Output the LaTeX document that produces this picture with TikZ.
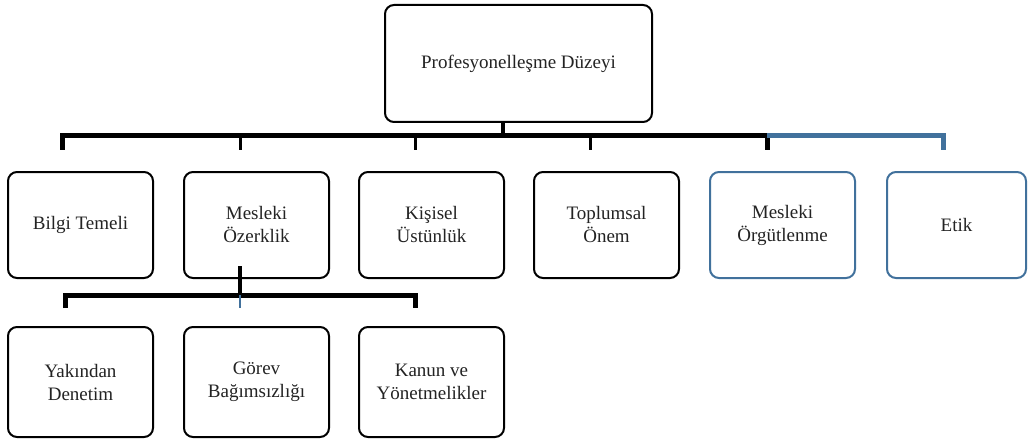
\documentclass[tikz,border=0pt]{standalone}
\usepackage{fontspec}
\setmainfont{Liberation Serif}
\definecolor{boxblue}{RGB}{65,113,156}
\definecolor{txt}{RGB}{35,35,35}
\begin{document}
\begin{tikzpicture}[x=1pt,y=-1pt,
  box/.style={draw=black,line width=2pt,rounded corners=9pt,fill=white,
    minimum width=145pt,minimum height=106pt,inner sep=2pt,align=center,
    text=txt,font=\fontsize{19}{23}\selectfont},
  bluebox/.style={box,draw=boxblue},
  bar/.style={line width=5pt,black},
  tick/.style={line width=3pt,black},
  bbar/.style={line width=5pt,boxblue},
  btick/.style={line width=3pt,boxblue}]
\useasboundingbox (0,0) rectangle (1028,441);
\node[box,minimum width=267pt,minimum height=117pt] (top) at (518.5,63.5) {Profesyonelleşme Düzeyi};
\node[box] (bilgi) at (80.5,225) {Bilgi Temeli};
\node[box] (ozerk) at (256.5,225) {Mesleki\\Özerklik};
\node[box] (kisi) at (431.5,225) {Kişisel\\Üstünlük};
\node[box] (toplum) at (606.5,225) {Toplumsal\\Önem};
\node[bluebox] (orgut) at (782.5,225) {Mesleki\\Örgütlenme};
\node[bluebox,minimum width=139pt] (etik) at (956.5,225) {Etik};
\node[box,minimum height=110pt] (yakin) at (80.5,382) {Yakından\\Denetim};
\node[box,minimum height=110pt] (gorev) at (256.5,382) {Görev\\Bağımsızlığı};
\node[box,minimum height=110pt] (kanun) at (431.5,382) {Kanun ve\\Yönetmelikler};
% upper tree
\coordinate (s0) at (503,136);
\coordinate (b1) at (62,136); \coordinate (t1) at (62,150);
\coordinate (b2) at (240,136); \coordinate (t2) at (240,150);
\coordinate (b3) at (415,136); \coordinate (t3) at (415,150);
\coordinate (b4) at (590,136); \coordinate (t4) at (590,150);
\coordinate (b5) at (767,136); \coordinate (t5) at (767,150);
\coordinate (b6) at (943,136); \coordinate (t6) at (943,150);
\draw[line width=3.5pt] (top.south -| s0) -- (s0);
\draw[bar] (t1) -- (b1) -- (b5) -- (t5);
\draw[tick] (b2) -- (t2);
\draw[tick] (b3) -- (t3);
\draw[tick] (b4) -- (t4);
\draw[bbar] (b5) -- (b6) -- (t6);
% lower tree
\coordinate (s1) at (240,266);
\coordinate (c0) at (240,295);
\coordinate (c1) at (65,295); \coordinate (d1) at (65,308);
\coordinate (c2) at (240,308);
\coordinate (c3) at (415,295); \coordinate (d3) at (415,308);
\draw[line width=3.5pt] (s1) -- (c0);
\draw[bar] (d1) -- (c1) -- (c3) -- (d3);
\draw[line width=2pt,boxblue] (c0) -- (c2);
\end{tikzpicture}
\end{document}
